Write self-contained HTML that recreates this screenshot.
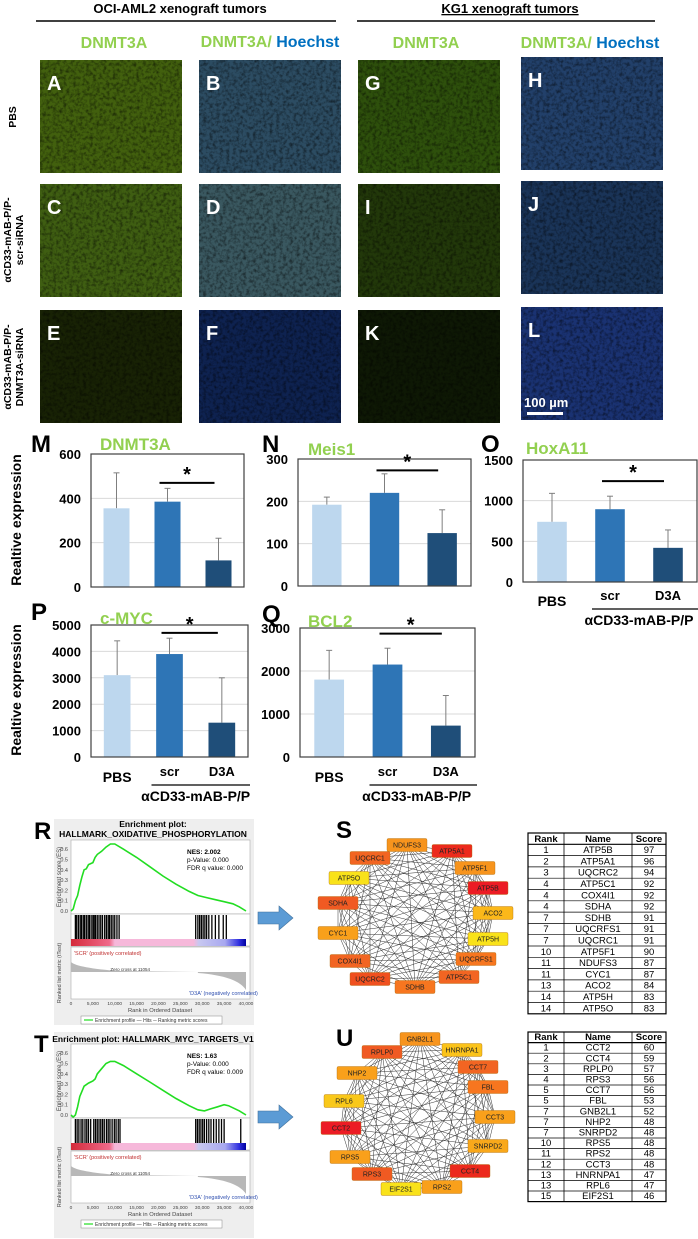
<!DOCTYPE html>
<html><head><meta charset="utf-8">
<style>
html,body{margin:0;padding:0;background:#fff;}
svg{display:block;font-family:"Liberation Sans Narrow","Liberation Sans",sans-serif;}
</style></head>
<body>
<svg id="fig" xmlns="http://www.w3.org/2000/svg" width="698" height="1239" viewBox="0 0 698 1239">
<defs>
<filter id="noise" x="0" y="0" width="100%" height="100%">
<feTurbulence type="fractalNoise" baseFrequency="0.3" numOctaves="3" seed="4"/>
<feColorMatrix values="0 0 0 0 0  0 0 0 0 0  0 0 0 0 0  0 0 0 -2.2 1.3"/>
</filter>
<linearGradient id="rankbar" x1="0" x2="1" y1="0" y2="0">
<stop offset="0" stop-color="#d42a3a"/><stop offset="0.22" stop-color="#f06a8a"/><stop offset="0.25" stop-color="#f6b8da"/><stop offset="0.7" stop-color="#f6b8da"/><stop offset="0.73" stop-color="#c8c8f0"/><stop offset="0.88" stop-color="#a8a8f0"/><stop offset="0.96" stop-color="#3030e0"/><stop offset="1" stop-color="#0000a0"/>
</linearGradient>
</defs>

<g font-weight="bold" font-size="13">
<text x="180" y="13" text-anchor="middle">OCI-AML2 xenograft tumors</text>
<line x1="36" x2="336" y1="21" y2="21" stroke="#000" stroke-width="1.5"/>
<text x="510" y="13" text-anchor="middle" text-decoration="underline">KG1 xenograft tumors</text>
<line x1="357" x2="655" y1="21" y2="21" stroke="#000" stroke-width="1.5"/>
</g>
<g font-weight="bold" font-size="16">
<text x="114" y="48" text-anchor="middle" fill="#92d050">DNMT3A</text>
<text x="270" y="47" text-anchor="middle"><tspan fill="#92d050">DNMT3A/ </tspan><tspan fill="#0070c0">Hoechst</tspan></text>
<text x="426" y="48" text-anchor="middle" fill="#92d050">DNMT3A</text>
<text x="590" y="48" text-anchor="middle"><tspan fill="#92d050">DNMT3A/ </tspan><tspan fill="#0070c0">Hoechst</tspan></text>
</g>
<g font-weight="bold" font-size="10.5" font-family="Liberation Sans, sans-serif">
<text transform="translate(16,117) rotate(-90)" text-anchor="middle">PBS</text>
<text transform="translate(11,240) rotate(-90)" text-anchor="middle">αCD33-mAB-P/P-<tspan x="0" dy="12">scr-siRNA</tspan></text>
<text transform="translate(11,367) rotate(-90)" text-anchor="middle">αCD33-mAB-P/P-<tspan x="0" dy="12">DNMT3A-siRNA</tspan></text>
</g>
<g id="micro"></g>

<g id="bars"></g>
<g id="gsea"></g>
<g id="nets"></g>
<g id="tables"></g>
</svg>
<script>
const panelLetters = ['A','B','G','H','C','D','I','J','E','F','K','L'];
const panelColors = ['#42600e','#2c4c62','#2e500c','#22406a','#3f5e12','#3a5860','#22380a','#1a3458','#182205','#0e2250','#0e1805','#1a3272'];
const colX = [40,199,358,521];
const rowY = [60,184,310];
const categories = ['PBS','scr','D3A'];
const mVals = [355,385,120];   const mErr = [515,445,220];
const nVals = [192,220,125];   const nErr = [210,265,180];
const oVals = [740,895,420];   const oErr = [1090,1055,640];
const pVals = [3100,3900,1300]; const pErr = [4400,4500,3000];
const qVals = [1800,2150,730]; const qErr = [2480,2530,1430];
const mTicks = [0,200,400,600];
const nTicks = [0,100,200,300];
const oTicks = [0,500,1000,1500];
const pTicks = [0,1000,2000,3000,4000,5000];
const qTicks = [0,1000,2000,3000];
const barColors = ['#bdd7ee','#2e75b6','#1f4e79'];
const rRanks = [0,500,1000,1500,2000,2500,3000,3500,4000,4500,5000,5500,6000,7000,8000,9000,10000,12000,15000,18000,21000,24000,27000,29000,31000,33000,35000,37000,38500,40000];
const rES    = [0,0.02,0.1,0.15,0.25,0.33,0.40,0.41,0.45,0.46,0.47,0.52,0.55,0.58,0.62,0.65,0.65,0.60,0.52,0.43,0.34,0.26,0.19,0.15,0.13,0.11,0.09,0.07,0.04,0];
const tRanks = [0,500,1000,1500,2000,3000,4000,5000,5500,6000,7000,8000,9000,10000,12000,15000,18000,21000,24000,27000,29000,30500,32000,33500,35000,36000,37000,38500,40000];
const tES    = [0,-0.02,0,0.08,0.18,0.28,0.31,0.33,0.35,0.40,0.45,0.50,0.52,0.52,0.48,0.40,0.32,0.24,0.16,0.09,0.05,0.04,0.06,0.08,0.10,0.09,0.07,0.04,0];
const rHits = [1000,1300,1700,2100,2400,2800,3100,3500,3900,4200,4600,5000,5300,5600,6000,6400,6800,7200,7700,8100,8500,8800,9200,9600,10000,10500,11000,28500,29000,29400,29800,30200,30600,31000,31500,32200,33000,33800,34800,35500];
const tHits = [1000,1400,1800,2300,2700,3200,3600,4000,4500,5200,5600,6000,6400,6800,7200,7600,8100,8500,8900,9400,9900,10300,10800,11200,28500,28900,29300,29700,30100,30500,31000,31500,32000,32600,33200,33800,34400,35000,38800];
const esTicks = [0,0.1,0.2,0.3,0.4,0.5,0.6];
const rankTicks = [0,5000,10000,15000,20000,25000,30000,35000,40000];
const rankTickLabels = ['0','5,000','10,000','15,000','20,000','25,000','30,000','35,000','40,000'];
const sNodes = ['NDUFS3','ATP5A1','UQCRC1','ATP5F1','ATP5O','ATP5B','SDHA','ACO2','CYC1','ATP5H','COX4I1','UQCRFS1','UQCRC2','ATP5C1','SDHB'];
const sNodeX = [407,452,370,475,349,488,338,493,338,488,350,476,370,459,415];
const sNodeY = [845,851,858,868,878,888,903,913,933,939,961,959,979,977,987];
const sNodeCol = ['#f7941d','#ec2a1c','#f26522','#f7941d','#f9e21a','#ec1c24','#f05a22','#fbb81a','#f9a01b','#f9e21a','#f26522','#f7761f','#f0501f','#f26522','#f7761f'];
const uNodes = ['GNB2L1','HNRNPA1','RPLP0','CCT7','NHP2','FBL','RPL6','CCT3','CCT2','SNRPD2','RPS5','CCT4','RPS3','RPS2','EIF2S1'];
const uNodeX = [420,462,382,478,357,488,344,495,341,488,350,470,372,442,401];
const uNodeY = [1039,1050,1052,1067,1073,1087,1101,1117,1128,1146,1157,1171,1174,1187,1189];
const uNodeCol = ['#f7941d','#fbc31a','#f05a22','#f26522','#f9a01b','#f7761f','#f9c81a','#f9a01b','#ec1c24','#f9a81b','#f9a01b','#ec2a1c','#f05a22','#f9a01b','#f9e21a'];
const sRanks = ['1','2','3','4','4','4','7','7','7','10','11','11','13','14','14'];
const sNames = ['ATP5B','ATP5A1','UQCRC2','ATP5C1','COX4I1','SDHA','SDHB','UQCRFS1','UQCRC1','ATP5F1','NDUFS3','CYC1','ACO2','ATP5H','ATP5O'];
const sScores = ['97','96','94','92','92','92','91','91','91','90','87','87','84','83','83'];
const uRanks = ['1','2','3','4','5','5','7','7','7','10','11','12','13','13','15'];
const uNames = ['CCT2','CCT4','RPLP0','RPS3','CCT7','FBL','GNB2L1','NHP2','SNRPD2','RPS5','RPS2','CCT3','HNRNPA1','RPL6','EIF2S1'];
const uScores = ['60','59','57','56','56','53','52','48','48','48','48','48','47','47','46'];

const NS='http://www.w3.org/2000/svg';
function mk(tag, attrs, parent){const e=document.createElementNS(NS,tag);for(const k in attrs)e.setAttribute(k,attrs[k]);parent.appendChild(e);return e;}
function txt(s, attrs, parent){const e=mk('text',attrs,parent);e.textContent=s;return e;}

const micro=document.getElementById('micro');
panelLetters.forEach((L,i)=>{
  const r=Math.floor(i/4), c=i%4;
  const x=colX[c], y=rowY[r]+(c===3?-3:0);
  const g=mk('g',{},micro);
  
  
  const bg=mk('rect',{x:x,y:y,width:142,height:113,fill:panelColors[i]},g);
  
  
  const nz=mk('rect',{x:x,y:y,width:142,height:113,fill:'#000',opacity:0.5,filter:'url(#noise)'},g);
  
  
  const t=txt(L,{x:x+7,y:y+30,fill:'#fff','font-weight':'bold','font-size':20},g);
  
  
});
const sb=mk('rect',{x:527,y:412,width:36,height:3,fill:'#fff'},micro);


const sbt=txt('100 µm',{x:524,y:407,fill:'#fff','font-weight':'bold','font-size':13},micro);



const bars=document.getElementById('bars');
function barChart(o){
  const g=mk('g',{},bars);
  
  
  const w=o.x1-o.x0, h=o.y1-o.y0, max=o.ticks[o.ticks.length-1];
  const Y=v=>o.y1-v/max*h;
  const X=i=>o.x0+w*(1+2*i)/6;
  o.ticks.forEach(t=>{
    if(t>0&&t<max){const gl=mk('line',{x1:o.x0,x2:o.x1,y1:Y(t),y2:Y(t),stroke:'#d9d9d9','stroke-width':1},g);
    
    }
    const tl=txt(String(t),{x:o.x0-10,y:Y(t)+5,'text-anchor':'end','font-size':13,'font-weight':'bold'},g);
    
    
  });
  const bw=w*0.17;
  o.vals.forEach((v,i)=>{
    const e=mk('line',{x1:X(i),x2:X(i),y1:Y(o.err[i]),y2:Y(v),stroke:'#7f7f7f','stroke-width':1},g);
    
    
    const ec=mk('line',{x1:X(i)-3,x2:X(i)+3,y1:Y(o.err[i]),y2:Y(o.err[i]),stroke:'#7f7f7f','stroke-width':1},g);
    
    
    const b=mk('rect',{x:X(i)-bw/2,y:Y(v),width:bw,height:o.y1-Y(v),fill:barColors[i]},g);
    
    
  });
  const box=mk('rect',{x:o.x0,y:o.y0,width:w,height:h,fill:'none',stroke:'#404040','stroke-width':1.2},g);
  
  
  const sl=mk('line',{x1:X(1)-8,x2:X(2)-4,y1:Y(o.sig),y2:Y(o.sig),stroke:'#000','stroke-width':2},g);
  
  
  const st=txt('*',{x:(X(1)+X(2))/2-6,y:Y(o.sig)-2,'text-anchor':'middle','font-size':20,'font-weight':'bold'},g);
  
  
  const lt=txt(o.letter,{x:o.lx,y:o.ly,'font-size':24,'font-weight':'bold'},g);
  
  
  const ti=txt(o.title,{x:o.tx,y:o.ty,'font-size':17,'font-weight':'bold',fill:'#92d050'},g);
  
  
  if(o.cat){
    const cy=o.catY;
    const a=txt('PBS',{x:X(0),y:cy+6,'text-anchor':'middle','font-size':14,'font-weight':'bold'},g);
    
    
    const b2=txt('scr',{x:X(1),y:cy,'text-anchor':'middle','font-size':13,'font-weight':'bold'},g);
    
    
    const c2=txt('D3A',{x:X(2),y:cy,'text-anchor':'middle','font-size':13,'font-weight':'bold'},g);
    
    
    const ln=mk('line',{x1:X(1)-18,x2:o.x1+2,y1:cy+9,y2:cy+9,stroke:'#000','stroke-width':1.3},g);
    
    
    const gl2=txt('αCD33-mAB-P/P',{x:(X(1)+X(2))/2,y:cy+25,'text-anchor':'middle','font-size':14,'font-weight':'bold'},g);
    
    
  }
}
barChart({id:'dnmt3a',letter:'M',lx:31,ly:452,title:'DNMT3A',tx:100,ty:450,x0:91,x1:244,y0:454,y1:587,ticks:mTicks,vals:mVals,err:mErr,sig:470});
barChart({id:'meis1',letter:'N',lx:262,ly:452,title:'Meis1',tx:308,ty:455,x0:298,x1:471,y0:459,y1:586,ticks:nTicks,vals:nVals,err:nErr,sig:273});
barChart({id:'hoxa11',letter:'O',lx:481,ly:452,title:'HoxA11',tx:526,ty:454,x0:523,x1:697,y0:460,y1:582,ticks:oTicks,vals:oVals,err:oErr,sig:1240,cat:true,catY:600});
barChart({id:'cmyc',letter:'P',lx:31,ly:620,title:'c-MYC',tx:100,ty:624,x0:91,x1:248,y0:625,y1:757,ticks:pTicks,vals:pVals,err:pErr,sig:4700,cat:true,catY:776});
barChart({id:'bcl2',letter:'Q',lx:262,ly:622,title:'BCL2',tx:308,ty:627,x0:300,x1:475,y0:628,y1:757,ticks:qTicks,vals:qVals,err:qErr,sig:2870,cat:true,catY:776});
[520,690].forEach((cy,i)=>{
  const t=txt('Realtive expression',{transform:'translate(21,'+cy+') rotate(-90)','text-anchor':'middle','font-size':14,'font-weight':'bold','font-family':'Liberation Sans, sans-serif'},bars);
  
  
});

const gsea=document.getElementById('gsea');
function gseaPlot(o){
  const g=mk('g',{},gsea);
  
  
  const bg=mk('rect',{x:54,y:o.top,width:200,height:206,fill:'#eeeeee'},g);
  
  
  const L=txt(o.letter,{x:34,y:o.top+20,'font-size':24,'font-weight':'bold'},g);
  
  
  o.titles.forEach((s,i)=>{const t=txt(s,{x:153,y:o.top+8+i*10+(o.titles.length===1?2:0),'text-anchor':'middle','font-size':8.5,'font-weight':'bold','font-family':'Liberation Sans, sans-serif'},g);
    
    });
  const px0=71, px1=250, ey0=o.esTop, ey1=o.esTop+74;
  const X=r=>px0+(r/40000)*(px1-px0-4);
  const zeroY=ey1-3, Y=v=>zeroY-v/0.1*10.3;
  const pa=mk('rect',{x:px0,y:ey0,width:px1-px0,height:ey1-ey0,fill:'#fff',stroke:'#aaa','stroke-width':0.6},g);
  
  
  esTicks.forEach(t=>{const tl=txt(t.toFixed(1),{x:px0-3,y:Y(t)+2,'text-anchor':'end','font-size':5.5,fill:'#444'},g);
    
    });
  const yt=txt('Enrichment score (ES)',{transform:'translate(61,'+(ey0+37)+') rotate(-90)','text-anchor':'middle','font-size':6,fill:'#444'},g);
  
  
  const pts=o.ranks.map((r,i)=>X(r).toFixed(1)+','+Y(o.es[i]).toFixed(1)).join(' ');
  const cv=mk('polyline',{points:pts,fill:'none',stroke:'#22dd22','stroke-width':1.6},g);
  
  
  ['NES: '+o.nes,'p-Value: 0.000','FDR q value: '+o.fdr].forEach((s,i)=>{
    const t=txt(s,{x:187,y:ey0+14+i*8,'font-size':6.5,'font-family':'Liberation Sans, sans-serif','font-weight':i===0?'bold':'normal'},g);
    
    });
  const hy0=ey1, hy1=ey1+25;
  const ha=mk('rect',{x:px0,y:hy0,width:px1-px0,height:hy1-hy0+7,fill:'#fff',stroke:'#aaa','stroke-width':0.6},g);
  
  
  o.hits.forEach(r=>{const l=mk('line',{x1:X(r),x2:X(r),y1:hy0+1,y2:hy1,stroke:'#000','stroke-width':1.3},g);
    
    });
  const rb=mk('rect',{x:px0,y:hy1,width:px1-px0-4,height:7,fill:'url(#rankbar)'},g);
  
  
  const my0=hy1+8, my1=my0+52;
  const ma=mk('rect',{x:px0,y:my0,width:px1-px0,height:my1-my0,fill:'#fff',stroke:'#aaa','stroke-width':0.6},g);
  
  
  const mz=my0+25;
  const mp=mk('path',{d:'M'+X(0)+','+mz+' L'+X(0)+','+(mz-10)+' Q'+X(1500)+','+(mz-4)+' '+X(11000)+','+(mz-1)+' L'+X(29000)+','+mz+' L'+X(29000)+','+(mz+1)+' Q'+X(38000)+','+(mz+4)+' '+X(40000)+','+(mz+18)+' L'+X(40000)+','+mz+' Z',fill:'#b8b8b8'},g);
  
  
  const a1=txt("'SCR' (positively correlated)",{x:px0+3,y:my0+8,'font-size':5.5,fill:'#c03030'},g);
  
  
  const a2=txt('Zero cross at 11054',{x:X(9000),y:mz-1,'font-size':4.5,fill:'#333'},g);
  
  
  const a3=txt("'D3A' (negatively correlated)",{x:X(27000),y:my1-4,'font-size':5.5,fill:'#3050b0'},g);
  
  
  const mt=txt('Ranked list metric (tTest)',{transform:'translate(61,'+(my0+26)+') rotate(-90)','text-anchor':'middle','font-size':5.5,fill:'#444'},g);
  
  
  rankTicks.forEach((r,i)=>{const t=txt(rankTickLabels[i],{x:X(r),y:my1+6,'text-anchor':'middle','font-size':4.8,fill:'#444'},g);
    
    });
  const rt=txt('Rank in Ordered Dataset',{x:160,y:my1+13,'text-anchor':'middle','font-size':5.8,fill:'#444'},g);
  
  
  const lg=mk('rect',{x:81,y:my1+17,width:141,height:8,fill:'#fff',stroke:'#888','stroke-width':0.5},g);
  
  
  const l1=mk('line',{x1:84,x2:93,y1:my1+21,y2:my1+21,stroke:'#22dd22','stroke-width':1.2},g);
  
  
  const lt=txt('Enrichment profile  — Hits  ─  Ranking metric scores',{x:95,y:my1+23,'font-size':5,fill:'#333'},g);
  
  
}
gseaPlot({id:'oxphos',letter:'R',top:819,titles:['Enrichment plot:','HALLMARK_OXIDATIVE_PHOSPHORYLATION'],esTop:840,ranks:rRanks,es:rES,hits:rHits,nes:'2.002',fdr:'0.000'});
gseaPlot({id:'myc',letter:'T',top:1032,titles:['Enrichment plot: HALLMARK_MYC_TARGETS_V1'],esTop:1044,ranks:tRanks,es:tES,hits:tHits,nes:'1.63',fdr:'0.009'});

[918,1117].forEach((cy,i)=>{
  const a=mk('path',{d:'M258,'+(cy-6)+' L279,'+(cy-6)+' L279,'+(cy-12)+' L293,'+cy+' L279,'+(cy+12)+' L279,'+(cy+6)+' L258,'+(cy+6)+' Z',fill:'#5b9bd5',stroke:'#41719c','stroke-width':0.6},gsea);
  
  
});

const nets=document.getElementById('nets');
function network(id,letter,lx,ly,names,xs,ys,cols){
  const g=mk('g',{},nets);
  
  
  const L=txt(letter,{x:lx,y:ly,'font-size':24,'font-weight':'bold'},g);
  
  
  for(let i=0;i<names.length;i++)for(let j=i+1;j<names.length;j++){
    const e=mk('line',{x1:xs[i],y1:ys[i],x2:xs[j],y2:ys[j],stroke:'#333','stroke-width':0.5},g);
    
    
  }
  names.forEach((n,i)=>{
    const r=mk('rect',{x:xs[i]-20,y:ys[i]-6.5,width:40,height:13,rx:1.5,fill:cols[i],stroke:'#b07010','stroke-width':0.4},g);
    
    
    const t=txt(n,{x:xs[i],y:ys[i]+2.5,'text-anchor':'middle','font-size':7,fill:'#222'},g);
    
    
  });
}
network('s','S',336,838,sNodes,sNodeX,sNodeY,sNodeCol);
network('u','U',336,1046,uNodes,uNodeX,uNodeY,uNodeCol);

const tables=document.getElementById('tables');
function table(id,y0,rowH,ranks,names,scores){
  const g=mk('g',{},tables);
  
  
  const x0=528,x1=666,c1=564,c2=632;
  const n=ranks.length+1, y1=y0+n*rowH;
  const fr=mk('rect',{x:x0,y:y0,width:x1-x0,height:y1-y0,fill:'#fff',stroke:'#000','stroke-width':1.2},g);
  
  
  [c1,c2].forEach(cx=>{const l=mk('line',{x1:cx,x2:cx,y1:y0,y2:y1,stroke:'#000','stroke-width':0.8},g);
    
    });
  for(let r=1;r<n;r++){const l=mk('line',{x1:x0,x2:x1,y1:y0+r*rowH,y2:y0+r*rowH,stroke:'#000','stroke-width':r===1?1.2:0.7},g);
    
    }
  const rows=[['Rank','Name','Score']].concat(ranks.map((r,i)=>[r,names[i],scores[i]]));
  rows.forEach((row,r)=>{
    [(x0+c1)/2,(c1+c2)/2,(c2+x1)/2].forEach((cx,c)=>{
      const t=txt(row[c],{x:cx,y:y0+r*rowH+rowH-2.5,'text-anchor':'middle','font-size':9.5,'font-weight':r===0?'bold':'normal'},g);
      
      
    });
  });
}
table('s',833,11.3,sRanks,sNames,sScores);
table('u',1032,10.6,uRanks,uNames,uScores);
</script>
</body></html>
